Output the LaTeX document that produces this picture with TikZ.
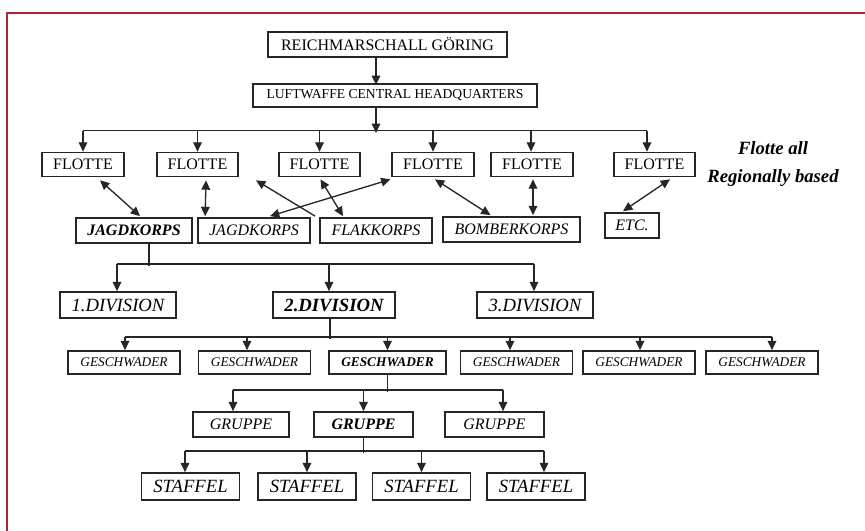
\documentclass[tikz,border=0pt]{standalone}
\usepackage{fontspec}
\setmainfont{Liberation Serif}
\usetikzlibrary{arrows.meta,calc,positioning}
\definecolor{framered}{RGB}{176,36,56}

\begin{document}
\begin{tikzpicture}[x=0.75pt,y=-0.75pt,
			unit/.style={draw=black!85,line width=1.3pt,inner sep=0pt,minimum height=18.75pt,font=\fontsize{12}{14}\selectfont},
			flotte/.style={unit,minimum width=61pt,minimum height=18pt},
			korps/.style={unit,font=\fontsize{12}{14}\selectfont\itshape},
			division/.style={unit,minimum width=87pt,minimum height=19.5pt,font=\fontsize{14}{16}\selectfont\itshape},
			geschwader/.style={unit,minimum width=84pt,minimum height=17.25pt,font=\fontsize{10}{12}\selectfont\itshape},
			gruppe/.style={unit,minimum width=74.25pt,font=\fontsize{12}{14}\selectfont\itshape},
			staffel/.style={unit,minimum width=73.5pt,minimum height=20.25pt,font=\fontsize{14}{16}\selectfont\itshape},
			link/.style={draw=black!85,line width=1pt},
			down/.style={link,-{Triangle[length=7pt,width=6.5pt]}},
			back/.style={link,{Triangle[length=7pt,width=6.5pt]}-},
			both/.style={link,{Triangle[length=7pt,width=6.5pt]}-{Triangle[length=7pt,width=6.5pt]}}]

	\path[use as bounding box,fill=white] (0,0) rectangle (865,531);
	\draw[framered,line width=1.8pt] (870,13) -- (7,13) -- (7,540);

	\node[unit,minimum width=179.25pt] (gor) at (387.5,44.5) {REICHMARSCHALL GÖRING};
	\node[unit,minimum width=213pt,minimum height=17.25pt,font=\fontsize{10.2}{12}\selectfont] (hq) at (395,95.5) {LUFTWAFFE CENTRAL HEADQUARTERS};
	\foreach \x [count=\i] in {83,197.5,319.5,433,532,654.5}
		\node[flotte] (fl\i) at (\x,164.5) {FLOTTE};
	\node[font=\fontsize{14}{21}\selectfont\bfseries\itshape,align=center] (note) at (773,164) {Flotte all\\Regionally based};

	\node[korps,minimum width=87pt] (jk1) at (134,230.5) {\bfseries JAGDKORPS};
	\node[korps,minimum width=84pt] (jk2) at (254,230.5) {JAGDKORPS};
	\node[korps,minimum width=84pt] (flak) at (376,230.5) {FLAKKORPS};
	\node[korps,minimum width=102.75pt] (bomb) at (511.5,229.5) {BOMBERKORPS};
	\node[korps,minimum width=40.5pt] (etc) at (632,225.5) {ETC.};

	\node[division] (d1) at (118,305) {1.DIVISION};
	\node[division,minimum width=91.5pt] (d2) at (334,305) {\bfseries 2.DIVISION};
	\node[division] (d3) at (535,305) {3.DIVISION};

	\node[geschwader] (g1) at (124,362.5) {GESCHWADER};
	\node[geschwader] (g2) at (254.5,362.5) {GESCHWADER};
	\node[geschwader,minimum width=87.75pt] (g3) at (387.5,362.5) {\bfseries GESCHWADER};
	\node[geschwader] (g4) at (516.5,362.5) {GESCHWADER};
	\node[geschwader] (g5) at (639,362.5) {GESCHWADER};
	\node[geschwader] (g6) at (762,362.5) {GESCHWADER};

	\node[gruppe,minimum width=72pt] (r1) at (241,424.5) {GRUPPE};
	\node[gruppe] (r2) at (363.5,424.5) {\bfseries GRUPPE};
	\node[gruppe] (r3) at (494.5,424.5) {GRUPPE};

	\foreach \x [count=\i] in {190.5,307,421.5,536}
		\node[staffel] (s\i) at (\x,486.5) {STAFFEL};

	\draw[down] ($(gor.south)+(-11.5,0)$) -- ++(0,27);
	\draw[down] ($(hq.south)+(-19,0)$) -- ++(0,25);
	\draw[link] ($(fl1.north)+(0,-21)$) -- ($(fl6.north)+(-7.5,-21)$);
	\foreach \n/\dx in {1/0,2/0,3/0,4/0,5/-1,6/-7.5}
		\draw[down] ($(fl\n.north)+(\dx,-21)$) -- ++(0,21);

	\draw[both] ($(fl1.south)+(17,3)$) -- ($(jk1.north)+(6,-1)$);
	\draw[both] ($(fl2.south)+(8.5,3)$) -- ($(jk2.north west)+(8,-1)$);
	\draw[back] ($(fl2.south east)+(17,3)$) -- ($(flak.north west)+(-4,-1)$);
	\draw[both] ($(fl3.south)+(1,2)$) -- ($(flak.north)+(-33,-1)$);
	\draw[both] ($(fl4.south west)+(-1,2)$) -- ($(jk2.north)+(16,-1)$);
	\draw[both] ($(fl4.south)+(2,2)$) -- ($(bomb.north)+(-21,-1)$);
	\draw[both] ($(fl5.south)+(1,2)$) -- ($(bomb.north)+(21.5,-1)$);
	\draw[both] ($(fl6.south)+(15.5,2)$) -- ($(etc.north)+(-9,-1)$);

	\draw[link] ($(jk1.south)+(15,0)$) -- ++(0,22);
	\draw[link] ($(d1.north)+(-1,-27)$) -- ($(d3.north)+(-1,-27)$);
	\foreach \n/\dx in {d1/-1,d2/-5,d3/-1}
		\draw[down] ($(\n.north)+(\dx,-27)$) -- ++(0,27);

	\draw[link] ($(d2.south)+(-4,0)$) -- ++(0,20);
	\draw[link] ($(g1.north)+(1,-13)$) -- ($(g6.north)+(10,-13)$);
	\foreach \n/\dx in {1/1,2/-7.5,3/0,4/-6.5,5/1,6/10}
		\draw[down] ($(g\n.north)+(\dx,-13)$) -- ++(0,13);

	\draw[link] (g3.south) -- ++(0,17);
	\draw[link] ($(r1.north)+(-8,-21)$) -- ($(r3.north)+(8.5,-21)$);
	\foreach \n/\dx in {1/-8,2/0,3/8.5}
		\draw[down] ($(r\n.north)+(\dx,-21)$) -- ++(0,21);

	\draw[link] (r2.south) -- ++(0,15);
	\draw[link] ($(s1.north)+(-5.5,-21)$) -- ($(s4.north)+(8,-21)$);
	\foreach \n/\dx in {1/-5.5,2/0,3/0,4/8}
		\draw[down] ($(s\n.north)+(\dx,-21)$) -- ++(0,21);
\end{tikzpicture}
\end{document}
